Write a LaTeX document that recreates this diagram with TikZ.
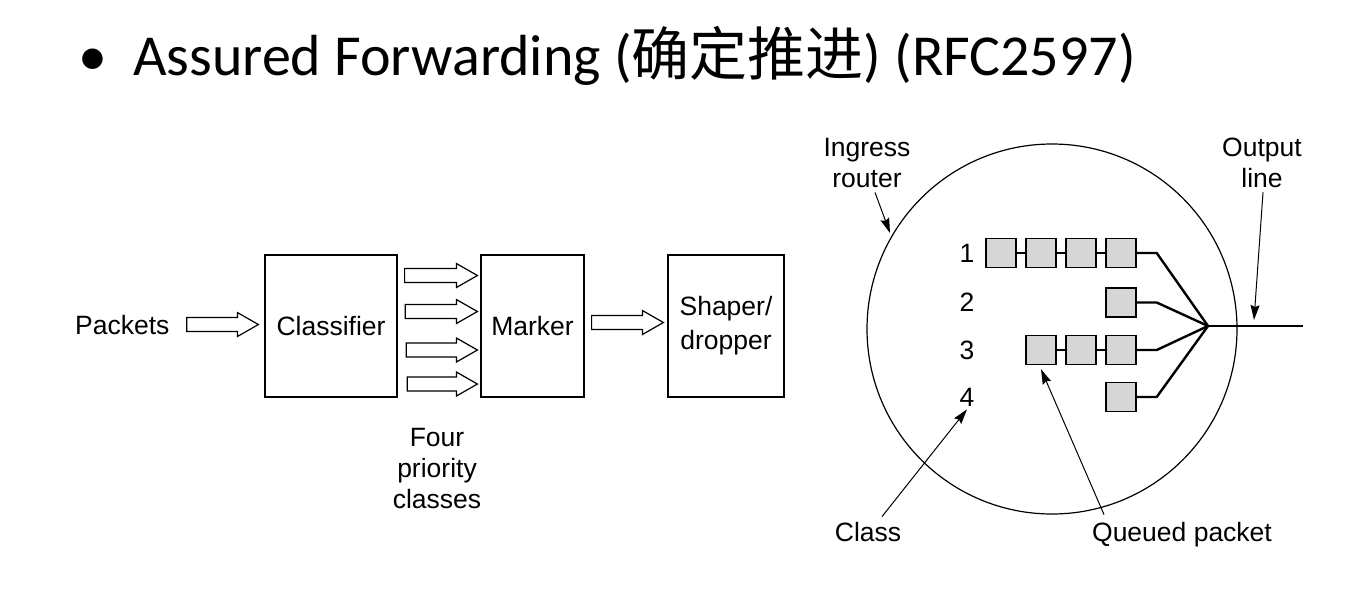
\documentclass[tikz,border=0pt]{standalone}
\usepackage{fontspec}
\setmainfont{Liberation Sans}
\newfontfamily\titlefont{Carlito}
\newfontfamily\cjk{Noto Sans CJK SC}
\usetikzlibrary{arrows.meta,calc}
\newcommand\blockarrow[2]{%
  \draw[hollow] let \p1=(#1), \p2=(#2) in
    (\x1,{\y1+7pt}) -- ({\x2-21pt},{\y1+7pt}) -- ({\x2-21pt},{\y1+12pt}) --
    (\x2,\y1) -- ({\x2-21pt},{\y1-12pt}) -- ({\x2-21pt},{\y1-7pt}) --
    (\x1,{\y1-7pt}) -- cycle;}
\begin{document}
\begin{tikzpicture}[x=1pt,y=-1pt,
  lbl/.style={inner sep=0pt, font=\fontsize{26.5}{31}\selectfont, align=center},
  box/.style={draw, line width=1.2pt, inner sep=0pt, font=\fontsize{26.5}{34}\selectfont, align=center},
  hollow/.style={draw, line width=1.2pt, fill=white, line join=miter},
  pkt/.style={draw, line width=1.4pt, fill=black!16, minimum width=30pt, minimum height=29pt, inner sep=0pt},
  qlink/.style={line width=1.8pt},
  fanlink/.style={line width=2.4pt, line join=round},
  ptr/.style={line width=1pt, -{Stealth[length=15pt,width=9pt,inset=2pt]}}
]
\useasboundingbox (0,0) rectangle (1364,590);

% title
\node[inner sep=0pt, anchor=base, font=\titlefont\fontsize{58}{64}\selectfont] (bul) at (93,75) {•};
\node[inner sep=0pt, anchor=base west, font=\titlefont\fontsize{58}{64}\selectfont] (title) at (133,75)
  {Assured Forwarding ({\cjk 确定推进}) (RFC2597)};

% left diagram
\node[lbl, anchor=base west] (pkts) at (75,334) {Packets};
\node[box, minimum width=132pt, minimum height=142pt] (cls) at (331,326) {Classifier};
\node[box, minimum width=103pt, minimum height=142pt] (mrk) at (532.5,326) {Marker};
\node[box, minimum width=116pt, minimum height=142pt] (shp) at (726,326) {Shaper/\\dropper};
\node[lbl, anchor=north] (four) at (437,428) {Four\\priority\\classes};

\blockarrow{$(pkts.east)+(17,0)$}{$(cls.west)+(-6,0)$}
\blockarrow{$(cls.east)+(7,-50.5)$}{$(mrk.west)+(-3,0)$}
\blockarrow{$(cls.east)+(7.7,-14.5)$}{$(mrk.west)+(-3,0)$}
\blockarrow{$(cls.east)+(8.7,24)$}{$(mrk.west)+(-3,0)$}
\blockarrow{$(cls.east)+(9.7,58)$}{$(mrk.west)+(-3,0)$}
\blockarrow{$(mrk.east)+(7,-3.5)$}{$(shp.west)+(-4,0)$}

% right diagram
\draw[line width=1.2pt] (1052,329) circle [radius=185];
\coordinate (ingtip) at (890,233);
\coordinate (fan) at (1208,326);
\coordinate (outend) at (1303,326);
\coordinate (outtip) at (1254,320);

\node[lbl, anchor=base] (ing) at (867,187) {Ingress\\router};
\node[lbl, anchor=base] (outl) at (1262,187) {Output\\line};
\node[lbl, anchor=base] (cl) at (868,541) {Class};
\node[lbl, anchor=base] (qp) at (1182,541) {Queued packet};

\node[lbl] (n1) at (967,253) {1};
\node[lbl] (n2) at (967,302.5) {2};
\node[lbl] (n3) at (967,350) {3};
\node[lbl] (n4) at (967,397) {4};

\node[pkt] (a1) at (1001,253) {};
\node[pkt] (a2) at (1041,253) {};
\node[pkt] (a3) at (1081,253) {};
\node[pkt] (a4) at (1121,253) {};
\node[pkt] (b1) at (1121,302.5) {};
\node[pkt] (c1) at (1041,350) {};
\node[pkt] (c2) at (1081,350) {};
\node[pkt] (c3) at (1121,350) {};
\node[pkt] (d1) at (1121,397) {};

\draw[qlink] (a1) -- (a2) (a2) -- (a3) (a3) -- (a4) (c1) -- (c2) (c2) -- (c3);
\draw[fanlink] (a4.east) -- ++(20,0) -- (fan);
\draw[fanlink] (b1.east) -- ++(20,0) -- (fan);
\draw[fanlink] (c3.east) -- ++(20,0) -- (fan);
\draw[fanlink] (d1.east) -- ++(20,0) -- (fan);
\draw[fanlink] (fan) -- (outend);

\draw[ptr] ([xshift=8pt,yshift=-5pt]ing.south) -- (ingtip);
\draw[ptr] ([xshift=1pt,yshift=-5pt]outl.south) -- (outtip);
\draw[ptr] ([xshift=14pt,yshift=5pt]cl.north) -- ([yshift=-3pt]n4.south);
\draw[ptr] ([xshift=-78pt,yshift=7pt]qp.north) -- ([yshift=-4pt]c1.south);
\end{tikzpicture}
\end{document}
